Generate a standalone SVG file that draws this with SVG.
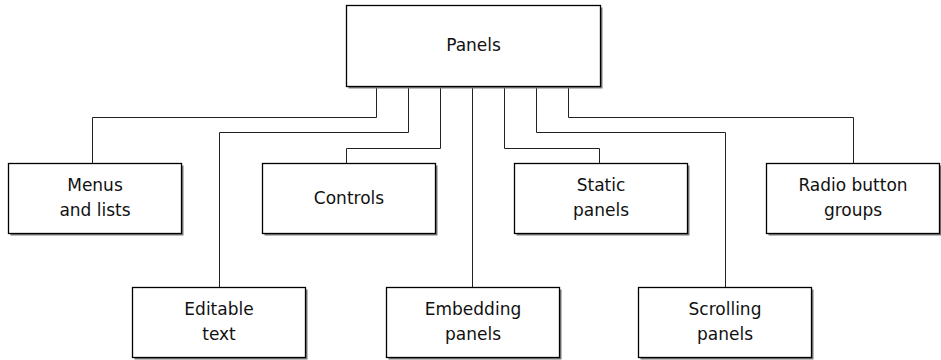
<svg xmlns="http://www.w3.org/2000/svg" width="941" height="360" viewBox="0 0 941 360">
<defs>
<style>
.shadow{fill:#7a7a7a;}
.box{fill:#fff;stroke:#000;stroke-width:1.3;}
.lbl{font-family:"DejaVu Sans",sans-serif;font-size:17px;fill:#111;text-anchor:middle;}
.conn{fill:none;stroke:#222;stroke-width:1;}
</style>
</defs>
<rect width="941" height="360" fill="#fff"/>
<g id="connectors">
<path class="conn" d="M376.5 86 V117.5 H92.5 V163"/>
<path class="conn" d="M408.5 86 V132.5 H219.5 V287"/>
<path class="conn" d="M440.5 86 V148.5 H346.5 V163"/>
<path class="conn" d="M472.5 86 V287"/>
<path class="conn" d="M504.5 86 V148.5 H599.5 V163"/>
<path class="conn" d="M536.5 86 V132.5 H725.5 V287"/>
<path class="conn" d="M568.5 86 V117.5 H853.5 V163"/>
</g>
<g id="panels">
<rect class="shadow" x="348.5" y="7.5" width="254" height="81"/>
<rect class="box" x="346.5" y="5.5" width="254" height="81"/>
<text class="lbl" x="473.5" y="51">Panels</text>
</g>
<g id="menus">
<rect class="shadow" x="10.5" y="165.5" width="173" height="70"/>
<rect class="box" x="8.5" y="163.5" width="173" height="70"/>
<text class="lbl" x="95" y="191">Menus</text>
<text class="lbl" x="95" y="216">and lists</text>
</g>
<g id="controls">
<rect class="shadow" x="264.5" y="165.5" width="173" height="70"/>
<rect class="box" x="262.5" y="163.5" width="173" height="70"/>
<text class="lbl" x="349" y="204">Controls</text>
</g>
<g id="static">
<rect class="shadow" x="516.5" y="165.5" width="173" height="70"/>
<rect class="box" x="514.5" y="163.5" width="173" height="70"/>
<text class="lbl" x="601" y="191">Static</text>
<text class="lbl" x="601" y="216">panels</text>
</g>
<g id="radio">
<rect class="shadow" x="768.5" y="165.5" width="173" height="70"/>
<rect class="box" x="766.5" y="163.5" width="173" height="70"/>
<text class="lbl" x="853" y="191">Radio button</text>
<text class="lbl" x="853" y="216">groups</text>
</g>
<g id="editable">
<rect class="shadow" x="134.5" y="289.5" width="173" height="70"/>
<rect class="box" x="132.5" y="287.5" width="173" height="70"/>
<text class="lbl" x="219" y="315">Editable</text>
<text class="lbl" x="219" y="340">text</text>
</g>
<g id="embedding">
<rect class="shadow" x="388.5" y="289.5" width="173" height="70"/>
<rect class="box" x="386.5" y="287.5" width="173" height="70"/>
<text class="lbl" x="473" y="315">Embedding</text>
<text class="lbl" x="473" y="340">panels</text>
</g>
<g id="scrolling">
<rect class="shadow" x="640.5" y="289.5" width="173" height="70"/>
<rect class="box" x="638.5" y="287.5" width="173" height="70"/>
<text class="lbl" x="725" y="315">Scrolling</text>
<text class="lbl" x="725" y="340">panels</text>
</g>
</svg>
